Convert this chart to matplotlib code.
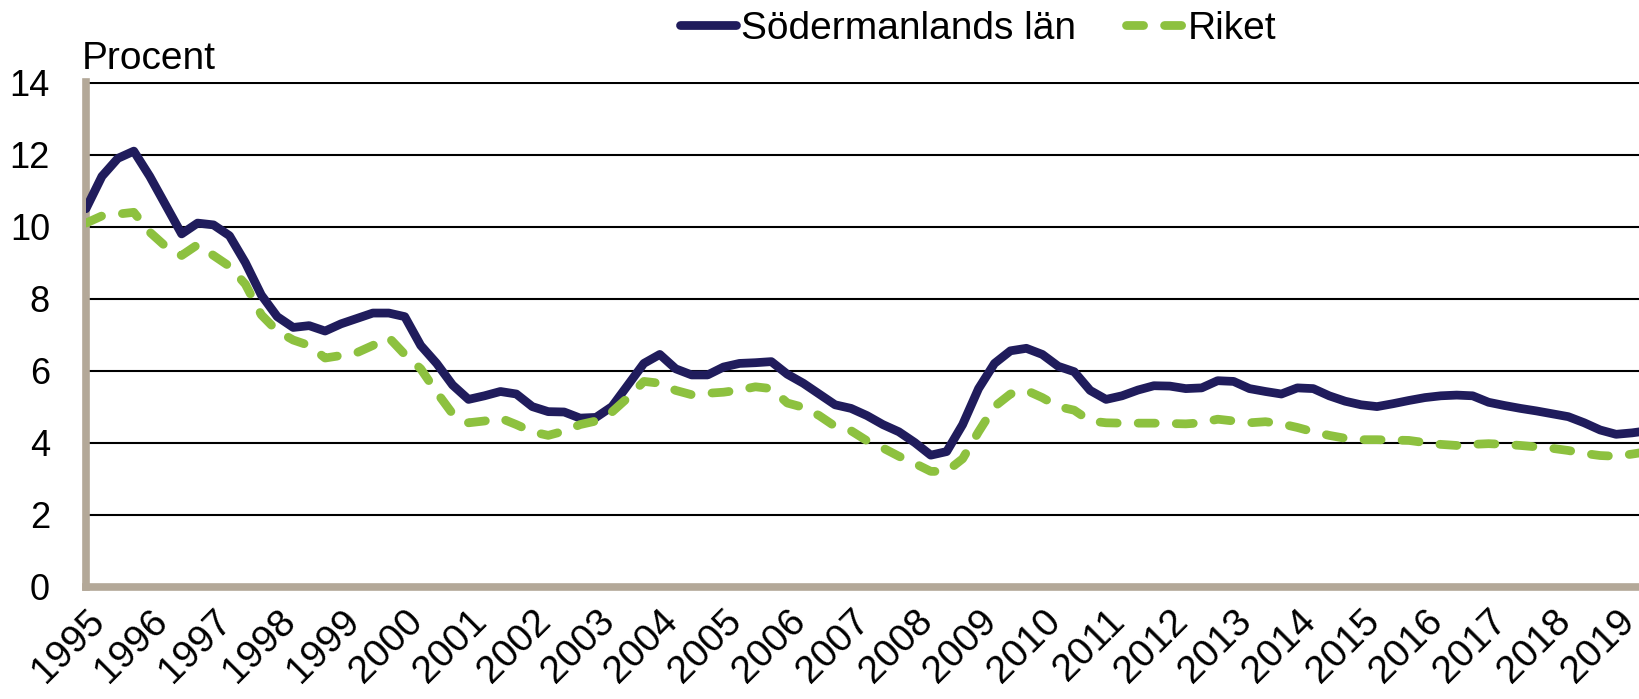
import matplotlib
matplotlib.use("Agg")
import matplotlib.pyplot as plt

plt.rcParams['font.family'] = ['Liberation Sans', 'DejaVu Sans']

years = [str(y) for y in range(1995, 2020)]

sodermanland = [10.5, 11.4, 11.9, 12.1, 11.4, 10.6, 9.8, 10.1, 10.05, 9.75,
                9.0, 8.1, 7.5, 7.2, 7.25, 7.1, 7.3, 7.45, 7.6, 7.6,
                7.5, 6.7, 6.2, 5.6, 5.2, 5.3, 5.42, 5.35, 5.0, 4.86,
                4.85, 4.68, 4.7, 5.0, 5.6, 6.2, 6.45, 6.05, 5.88, 5.88,
                6.1, 6.2, 6.22, 6.25, 5.9, 5.65, 5.35, 5.05, 4.95, 4.75,
                4.5, 4.3, 4.0, 3.65, 3.75, 4.5, 5.5, 6.2, 6.55, 6.62,
                6.45, 6.12, 5.97, 5.45, 5.2, 5.3, 5.46, 5.58, 5.57, 5.5,
                5.52, 5.72, 5.7, 5.5, 5.42, 5.35, 5.52, 5.5, 5.3, 5.15,
                5.05, 5.0, 5.08, 5.17, 5.25, 5.3, 5.32, 5.3, 5.12, 5.03,
                4.95, 4.88, 4.8, 4.72, 4.55, 4.35, 4.23, 4.27, 4.33]

riket = [10.1, 10.3, 10.35, 10.4, 9.85, 9.45, 9.2, 9.5, 9.2, 8.9,
         8.4, 7.55, 7.1, 6.85, 6.7, 6.35, 6.42, 6.5, 6.7, 6.92,
         6.45, 6.05, 5.4, 4.8, 4.55, 4.6, 4.68, 4.5, 4.3, 4.2,
         4.32, 4.5, 4.6, 4.85, 5.25, 5.7, 5.65, 5.45, 5.33, 5.37,
         5.4, 5.46, 5.55, 5.5, 5.1, 4.98, 4.75, 4.45, 4.33, 4.05,
         3.85, 3.62, 3.42, 3.2, 3.2, 3.55, 4.3, 5.0, 5.35, 5.45,
         5.25, 5.0, 4.9, 4.6, 4.55, 4.54, 4.54, 4.54, 4.53, 4.52,
         4.55, 4.65, 4.6, 4.55, 4.58, 4.52, 4.42, 4.3, 4.2, 4.12,
         4.08, 4.08, 4.07, 4.06, 4.0, 3.95, 3.92, 3.95, 3.97, 3.95,
         3.92, 3.88, 3.84, 3.78, 3.7, 3.64, 3.62, 3.68, 3.75]

series_names = ['Södermanlands län', 'Riket']
navy = '#201C5C'
green = '#8DC13F'
tan = '#B3A898'

W, H = 1640, 699
fig = plt.figure(figsize=(W / 100, H / 100), dpi=100)
ax = fig.add_axes([86 / W, (H - 586.5) / H, 1 - 86 / W, (586.5 - 81.7) / H])

x = list(range(len(sodermanland)))
lw = 6.3
ax.plot(x, sodermanland, color=navy, lw=lw, solid_capstyle='round',
        solid_joinstyle='round', label=series_names[0], zorder=3)
ax.plot(x, riket, color=green, lw=lw, dashes=(1.95, 2.4), dash_capstyle='round',
        dash_joinstyle='round', label=series_names[1], zorder=3)

ax.set_xlim(0, 97.5)
ax.set_ylim(0, 14.03)
ax.set_yticks(range(0, 15, 2))
ax.set_yticklabels([str(v) for v in range(0, 15, 2)], fontsize=26)
ax.set_xticks([i * 4 for i in range(len(years))])
ax.set_xticklabels(years, fontsize=28, rotation=45, ha='right', va='top',
                   rotation_mode='anchor')
ax.tick_params(axis='y', length=0, pad=26)
ax.tick_params(axis='x', length=0, pad=12)

ax.grid(axis='y', color='black', lw=1.5, zorder=1)
ax.set_axisbelow(True)
for s in ['top', 'right']:
    ax.spines[s].set_visible(False)
for s in ['left', 'bottom']:
    ax.spines[s].set_color(tan)
    ax.spines[s].set_linewidth(5.5)
    ax.spines[s].set_zorder(2)

fig.text(82 / W, 1 - 69 / H, 'Procent', fontsize=28, ha='left', va='baseline')

fig.legend(loc='center', bbox_to_anchor=(978 / W, 1 - 29 / H), ncol=2,
           frameon=False, fontsize=28, handlelength=1.45, handletextpad=0.12,
           columnspacing=1.3, borderpad=0, borderaxespad=0)

fig.savefig('out.png', dpi=100)
